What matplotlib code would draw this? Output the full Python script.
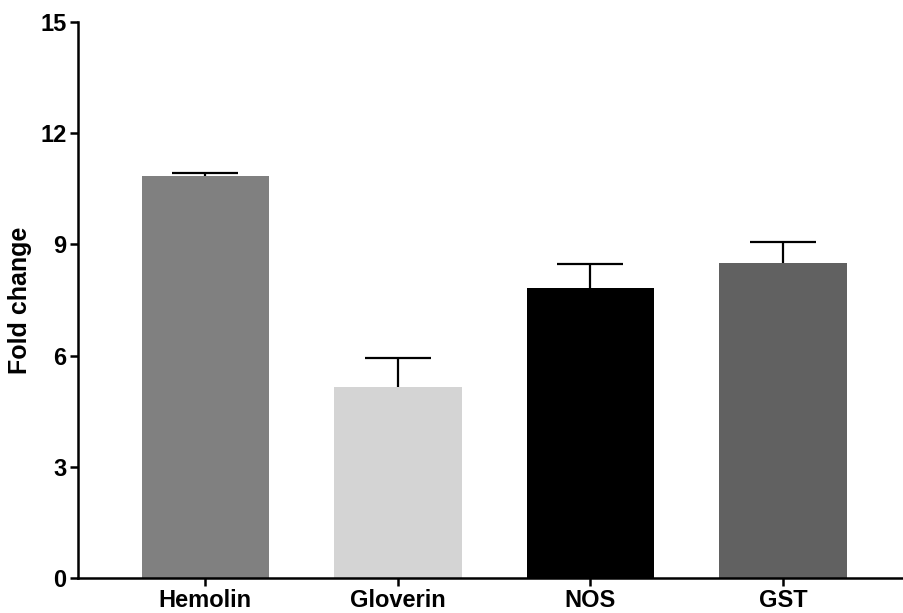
import matplotlib.pyplot as plt

plt.rcParams["font.family"] = ["Liberation Sans", "DejaVu Sans"]
plt.rcParams["font.weight"] = "bold"

genes = ["Hemolin", "Gloverin", "NOS", "GST"]
fold = [10.84, 5.16, 7.83, 8.49]
sem = [0.09, 0.78, 0.64, 0.57]
colors = ["#808080", "#d4d4d4", "#000000", "#616161"]
yticks = [0, 3, 6, 9, 12, 15]

fig = plt.figure(figsize=(9.04, 6.13), dpi=100)
ax = fig.add_axes([0.086, 0.057, 0.912, 0.907])

x = list(range(len(genes)))
ax.bar(x, fold, width=0.663, color=colors, edgecolor="none", zorder=2)
# upper error only
_, caps, _ = ax.errorbar(x, fold, yerr=[[0] * len(sem), sem], fmt="none",
                         ecolor="black", elinewidth=1.6, capsize=23.8,
                         capthick=1.6, zorder=1)
caps[0].set_visible(False)

ax.set_xlim(-0.663, 3.62)
ax.set_ylim(0, 15)
ax.set_yticks(yticks)
ax.set_xticks(x)
ax.set_xticklabels(genes)
ax.set_ylabel("Fold change", fontsize=18, fontweight="bold", labelpad=6)

for s in ["top", "right"]:
    ax.spines[s].set_visible(False)
for s in ["left", "bottom"]:
    ax.spines[s].set_linewidth(1.8)
ax.tick_params(axis="both", width=1.8, length=6, labelsize=17, pad=2)
for lab in ax.get_xticklabels() + ax.get_yticklabels():
    lab.set_fontweight("bold")

fig.savefig("out.png", dpi=100)
